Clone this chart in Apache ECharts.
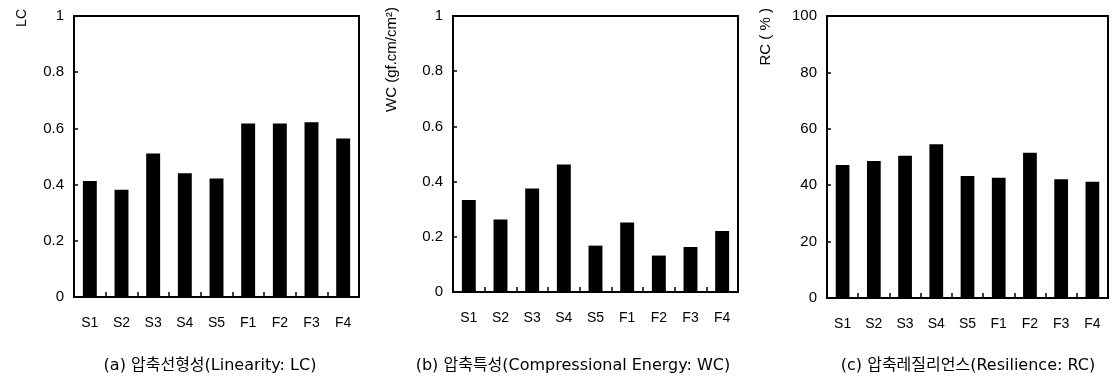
<!DOCTYPE html>
<html>
<head>
<meta charset="utf-8">
<script src="https://cdn.jsdelivr.net/npm/echarts@6/dist/echarts.min.js"></script>
<style>
html,body{margin:0;padding:0;background:#fff;}
#c{width:1119px;height:386px;}
</style>
</head>
<body>
<div id="c"></div>
<script>
const categories = ['S1','S2','S3','S4','S5','F1','F2','F3','F4'];
const lcValues = [0.413, 0.382, 0.511, 0.440, 0.422, 0.617, 0.617, 0.622, 0.564];
const wcValues = [0.333, 0.263, 0.375, 0.462, 0.168, 0.252, 0.132, 0.163, 0.221];
const rcValues = [47.2, 48.6, 50.4, 54.5, 43.3, 42.6, 51.5, 42.1, 41.2];
const yTicks12 = [0, 0.2, 0.4, 0.6, 0.8, 1];
const yTicks3 = [0, 20, 40, 60, 80, 100];
const yNames = ['LC', 'WC (gf.cm/cm²)', 'RC ( % )'];
const captions = ['(a) 압축선형성(Linearity: LC)', '(b) 압축특성(Compressional Energy: WC)', '(c) 압축레질리언스(Resilience: RC)'];

const FONT = '"Liberation Sans", Arial, sans-serif';
const CAPFONT = '16px "DejaVu Sans", "Noto Sans CJK KR", sans-serif';
const grids = [
  {left: 74, top: 16, width: 285, height: 281},
  {left: 453, top: 16, width: 285, height: 276},
  {left: 827, top: 16, width: 281, height: 282}
];
const series = [lcValues, wcValues, rcValues];
const yMax = [1, 1, 100];
const yInt = [0.2, 0.2, 20];

const chart = echarts.init(document.getElementById('c'), null, {renderer: 'canvas'});
const option = {
  backgroundColor: '#fff',
  animation: false,
  grid: grids.map(g => Object.assign({show: true, borderColor: '#000', borderWidth: 2, backgroundColor: 'transparent'}, g)),
  xAxis: grids.map((g, i) => ({
    type: 'category', gridIndex: i, data: categories, boundaryGap: true,
    axisLine: {lineStyle: {color: '#000', width: 2}},
    axisTick: {show: true, inside: true, length: 5, lineStyle: {color: '#000', width: 1.5}},
    axisLabel: {color: '#000', fontFamily: FONT, fontSize: 14, margin: 19, interval: 0}
  })),
  yAxis: grids.map((g, i) => ({
    type: 'value', gridIndex: i, min: 0, max: yMax[i], interval: yInt[i],
    splitLine: {show: false},
    axisLine: {show: true, lineStyle: {color: '#000', width: 2}},
    axisTick: {show: true, inside: true, length: 4, lineStyle: {color: '#000', width: 1.5}},
    axisLabel: {color: '#000', fontFamily: FONT, fontSize: 15, margin: 10,
      formatter: v => {
        const arr = i === 2 ? yTicks3 : yTicks12;
        const f = arr.find(t => Math.abs(t - v) < 1e-9);
        return f === undefined ? '' : String(f);
      }}
  })),
  series: series.map((d, i) => ({
    type: 'bar', xAxisIndex: i, yAxisIndex: i, data: d,
    barWidth: '44%', itemStyle: {color: '#000'}
  })),
  graphic: [
    {type: 'text', x: 22, y: 9, rotation: Math.PI / 2,
      style: {text: yNames[0], font: '14px ' + FONT, fill: '#000', align: 'right', verticalAlign: 'middle'}},
    {type: 'text', x: 392, y: 7, rotation: Math.PI / 2,
      style: {text: yNames[1], font: '15px ' + FONT, fill: '#000', align: 'right', verticalAlign: 'middle'}},
    {type: 'text', x: 766, y: 8, rotation: Math.PI / 2,
      style: {text: yNames[2], font: '15px ' + FONT, fill: '#000', align: 'right', verticalAlign: 'middle'}},
    {type: 'text', x: 210, y: 366,
      style: {text: captions[0], font: CAPFONT, fill: '#000', align: 'center', verticalAlign: 'middle'}},
    {type: 'text', x: 573, y: 366,
      style: {text: captions[1], font: CAPFONT, fill: '#000', align: 'center', verticalAlign: 'middle'}},
    {type: 'text', x: 968, y: 366,
      style: {text: captions[2], font: CAPFONT, fill: '#000', align: 'center', verticalAlign: 'middle'}}
  ]
};
chart.setOption(option);
</script>
</body>
</html>
